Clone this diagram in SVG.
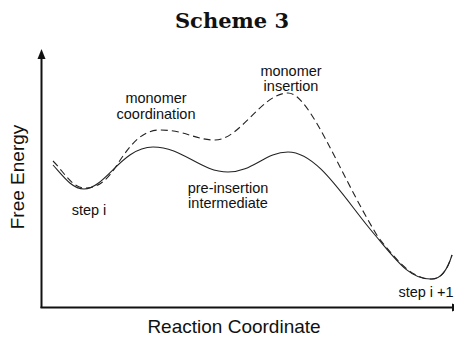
<svg xmlns="http://www.w3.org/2000/svg" width="454" height="339" viewBox="0 0 454 339">
<style>
.lbl{font-family:"Liberation Sans",Arial,sans-serif;font-size:14.5px;fill:#111;text-anchor:middle}
.ax{font-family:"Liberation Sans",Arial,sans-serif;font-size:19px;fill:#111;text-anchor:middle}
.title{font-family:"DejaVu Serif","Liberation Serif",serif;font-weight:bold;font-size:21px;fill:#111;text-anchor:middle}
.axis{stroke:#111;stroke-width:2;fill:none}
.curve{stroke:#222;stroke-width:1.1;fill:none}
.dash{stroke:#222;stroke-width:1.1;fill:none;stroke-dasharray:7 4}
</style>
<rect width="454" height="339" fill="#fff"/>
<text class="title" x="232" y="28">Scheme 3</text>
<g id="axes">
<line class="axis" x1="41.5" y1="308" x2="41.5" y2="57"/>
<polygon points="37.5,59 41.5,49 45.5,59" fill="#111"/>
<line class="axis" x1="40.5" y1="307.5" x2="454" y2="307.5"/>
<polygon points="452,303.5 462,307.5 452,311.5" fill="#111"/>
<text class="ax" transform="translate(24,177) rotate(-90)">Free Energy</text>
<text class="ax" x="234" y="333">Reaction Coordinate</text>
</g>
<g id="connectors">
<path class="curve" d="M53,165 C63,176 72,189 84,189 C105,189 122,147 153,147 C183,147 200,172 228,172 C253,172 265,152 288,152 C318,152 345,200 375,235 C397,261 410,280 432,279 C442,279 448,268 452,255"/>
<path class="dash" d="M53,161 C64,172 72,188 85,188 C100,188 108,178 115,168 C128,148 140,130 160,130 C185,130 195,140 215,140 C240,140 262,93 288,93 C310,93 340,175 378,237 C398,262 412,279 432,279 C442,279 448,268 452,255"/>
</g>
<g id="step-i"><text class="lbl" x="89" y="215">step i</text></g>
<g id="monomer-coordination"><text class="lbl" x="156" y="103">monomer</text><text class="lbl" x="156" y="119">coordination</text></g>
<g id="pre-insertion-intermediate"><text class="lbl" x="228" y="193">pre-insertion</text><text class="lbl" x="228" y="208">intermediate</text></g>
<g id="monomer-insertion"><text class="lbl" x="291" y="76">monomer</text><text class="lbl" x="291" y="91">insertion</text></g>
<g id="step-i-plus-1"><text class="lbl" x="426" y="297">step i +1</text></g>
</svg>
